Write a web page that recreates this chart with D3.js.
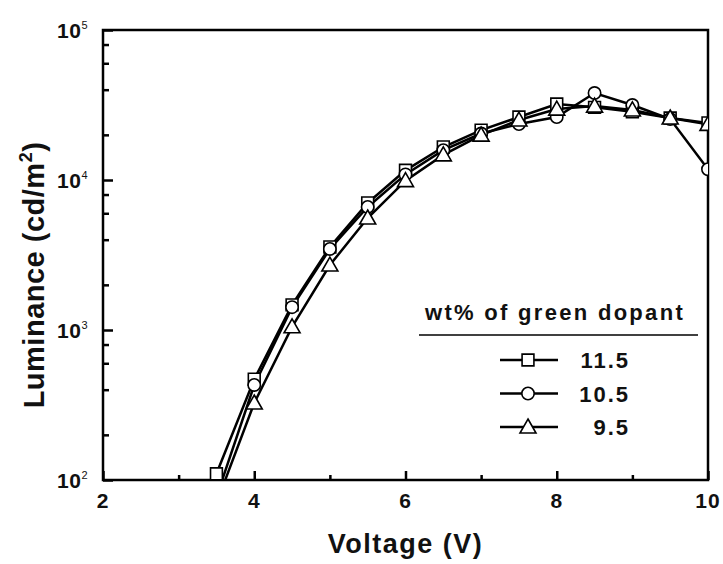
<!DOCTYPE html>
<html>
<head>
<meta charset="utf-8">
<script src="https://cdn.jsdelivr.net/npm/d3@7"></script>
<style>
    body { margin: 0; background: #fff; }
    text { font-family: "Liberation Sans", Arial, sans-serif; font-weight: bold; fill: #111; }
</style>
</head>
<body>
<div class="chart"></div>
<script>
// Data
const voltage = [3.5, 4, 4.5, 5, 5.5, 6, 6.5, 7, 7.5, 8, 8.5, 9, 9.5, 10]
const lum115 = [110, 470, 1470, 3580, 7030, 11600, 16600, 21500, 26300, 32100, 30500, 28500, 25900, 24000]
const lum105 = [77, 430, 1420, 3470, 6610, 10900, 15800, 20400, 23600, 26300, 38000, 31600, 25500, 11800]
const lum95 = [70, 326, 1050, 2710, 5580, 9900, 14700, 19900, 25100, 29700, 31100, 29300, 25900, 23500]
const seriesNames = ['11.5', '10.5', '9.5']
const seriesSymbols = ['square', 'circle', 'triangle']
const xTicks = [2, 4, 6, 8, 10]
const xMinorTicks = [3, 5, 7, 9]
const yTicks = [1e2, 1e3, 1e4, 1e5]
const yTickExp = ['2', '3', '4', '5']

function draw() {
    // Dimensions
    let dimensions = {
        width: 723,
        height: 564,
        margins: { top: 30, right: 15, bottom: 84, left: 103 }
    }
    dimensions.ctrWidth = dimensions.width - dimensions.margins.left - dimensions.margins.right
    dimensions.ctrHeight = dimensions.height - dimensions.margins.top - dimensions.margins.bottom

    const svg = d3.select('.chart')
        .append('svg')
        .attr('width', dimensions.width)
        .attr('height', dimensions.height)

    const ctr = svg.append('g')
        .attr('transform', `translate(${dimensions.margins.left}, ${dimensions.margins.top})`)

    // Scales
    const xScale = d3.scaleLinear()
        .domain([2, 10])
        .range([0, dimensions.ctrWidth])

    const yScale = d3.scaleLog()
        .domain([1e2, 1e5])
        .range([dimensions.ctrHeight, 0])

    // minor log ticks 2,4,6,8 per decade
    const yMinor = []
    for (let e = 2; e < 5; e++) {
        [2, 4, 6, 8].forEach(m => yMinor.push(m * Math.pow(10, e)))
    }

    // Axes (ticks inward)
    const xAxis = d3.axisBottom(xScale).tickValues(xTicks).tickSize(-9).tickFormat('')
    const xAxisMinor = d3.axisBottom(xScale).tickValues(xMinorTicks).tickSize(-5).tickFormat('')
    const yAxis = d3.axisLeft(yScale).tickValues(yTicks).tickSize(-10).tickFormat('')
    const yAxisMinor = d3.axisLeft(yScale).tickValues(yMinor).tickSize(-6).tickFormat('')

    const xAxisGroup = ctr.append('g')
        .attr('transform', `translate(0, ${dimensions.ctrHeight})`)
    xAxisGroup.call(xAxis)
    xAxisGroup.append('g').call(xAxisMinor)

    const yAxisGroup = ctr.append('g')
    yAxisGroup.call(yAxis)
    yAxisGroup.append('g').call(yAxisMinor)

    ctr.selectAll('.domain').remove()
    ctr.selectAll('.tick line')
        .attr('stroke', '#000')
        .attr('stroke-width', 2.5)

    // tick labels
    ctr.append('g')
        .selectAll('text')
        .data(xTicks)
        .join('text')
        .attr('x', d => xScale(d))
        .attr('y', dimensions.ctrHeight + 28)
        .attr('text-anchor', 'middle')
        .style('font-size', '21px')
        .style('letter-spacing', '1px')
        .text(d => d)

    const yLabels = ctr.append('g')
        .selectAll('text')
        .data(yTicks)
        .join('text')
        .attr('x', -15)
        .attr('y', d => yScale(d) + 8)
        .attr('text-anchor', 'end')
        .style('font-size', '21px')
        .style('letter-spacing', '0.5px')
    yLabels.append('tspan').text('10')
    yLabels.append('tspan')
        .attr('dy', -9)
        .style('font-size', '11px')
        .style('font-weight', 'normal')
        .text((d, i) => yTickExp[i])

    // Frame
    ctr.append('rect')
        .attr('width', dimensions.ctrWidth)
        .attr('height', dimensions.ctrHeight)
        .attr('fill', 'none')
        .attr('stroke', '#000')
        .attr('stroke-width', 2.5)

    // Series
    const series = [lum115, lum105, lum95].map((vals, i) => ({
        name: seriesNames[i],
        symbol: seriesSymbols[i],
        points: voltage.map((v, j) => ({ x: v, y: vals[j] }))
    }))

    const symbolPath = (type) => {
        if (type === 'square') return d3.symbol(d3.symbolSquare, 140)()
        if (type === 'circle') return d3.symbol(d3.symbolCircle, 120)()
        return 'M0,-8L8,6L-8,6Z'
    }

    ctr.append('clipPath')
        .attr('id', 'plot-clip')
        .append('rect')
        .attr('width', dimensions.ctrWidth)
        .attr('height', dimensions.ctrHeight)

    const plot = ctr.append('g')
        .attr('clip-path', 'url(#plot-clip)')

    const line = d3.line()
        .x(d => xScale(d.x))
        .y(d => yScale(d.y))

    plot.selectAll('path.series-line')
        .data(series)
        .join('path')
        .classed('series-line', true)
        .attr('d', d => line(d.points))
        .attr('fill', 'none')
        .attr('stroke', '#000')
        .attr('stroke-width', 2.5)

    series.forEach(s => {
        plot.append('g')
            .selectAll('path')
            .data(s.points)
            .join('path')
            .attr('transform', d => `translate(${xScale(d.x)}, ${yScale(d.y)})`)
            .attr('d', symbolPath(s.symbol))
            .attr('fill', '#fff')
            .attr('stroke', '#000')
            .attr('stroke-width', 1.6)
    })

    // Legend (origin at the centre of the title)
    const legend = svg.append('g')
        .attr('transform', 'translate(555, 0)')

    legend.append('text')
        .attr('x', 0)
        .attr('y', 320)
        .attr('text-anchor', 'middle')
        .style('font-size', '22px')
        .style('letter-spacing', '2.3px')
        .text('wt% of green dopant')

    legend.append('line')
        .attr('x1', -136)
        .attr('x2', 143)
        .attr('y1', 335)
        .attr('y2', 335)
        .attr('stroke', '#000')
        .attr('stroke-width', 1.5)

    const entries = legend.selectAll('g.entry')
        .data(series)
        .join('g')
        .classed('entry', true)
        .attr('transform', (d, i) => `translate(0, ${360 + i * 33.5})`)

    entries.append('line')
        .attr('x1', -55)
        .attr('x2', 3)
        .attr('stroke', '#000')
        .attr('stroke-width', 2.5)

    entries.append('path')
        .attr('transform', 'translate(-27, 0)')
        .attr('d', d => symbolPath(d.symbol))
        .attr('fill', '#fff')
        .attr('stroke', '#000')
        .attr('stroke-width', 1.6)

    entries.append('text')
        .attr('x', 75)
        .attr('y', 8)
        .attr('text-anchor', 'end')
        .style('font-size', '22px')
        .style('letter-spacing', '2px')
        .text(d => d.name)

    // Axis titles
    svg.append('text')
        .attr('x', dimensions.margins.left + dimensions.ctrWidth / 2)
        .attr('y', 553)
        .attr('text-anchor', 'middle')
        .style('font-size', '27px')
        .style('letter-spacing', '1.5px')
        .text('Voltage (V)')

    const yTitle = svg.append('text')
        .attr('transform', `translate(44, ${dimensions.margins.top + dimensions.ctrHeight / 2 + 20}) rotate(-90)`)
        .attr('text-anchor', 'middle')
        .style('font-size', '29px')
        .style('letter-spacing', '0.5px')
    yTitle.append('tspan').text('Luminance (cd/m')
    yTitle.append('tspan').attr('dy', -12).style('font-size', '18px').text('2')
    yTitle.append('tspan').attr('dy', 12).text(')')
}

draw()
</script>
</body>
</html>
